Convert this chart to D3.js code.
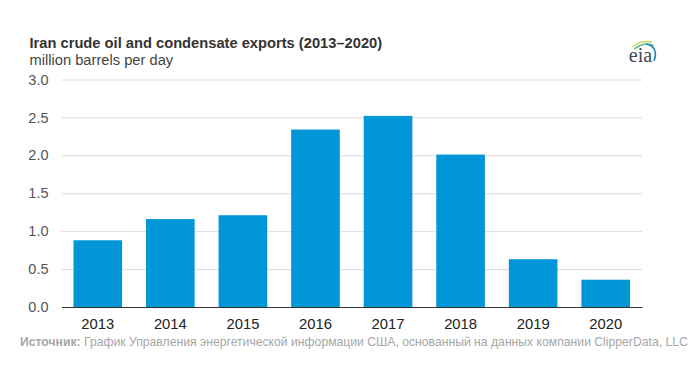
<!DOCTYPE html>
<html>
<head>
<meta charset="utf-8">
<script src="https://cdn.jsdelivr.net/npm/d3@7"></script>
<style>
  html,body{margin:0;padding:0;background:#fff;}
  text{font-family:"Liberation Sans",Arial,sans-serif;}
</style>
</head>
<body>
<div id="my_dataviz"></div>
<script>
var years = ["2013","2014","2015","2016","2017","2018","2019","2020"];
var exportsMbd = [0.88,1.16,1.21,2.34,2.52,2.01,0.63,0.36];
var yTicks = [0,0.5,1,1.5,2,2.5,3];

var width = 700, height = 379;
var svg = d3.select("#my_dataviz").append("svg")
    .attr("width", width).attr("height", height)
    .style("display","block");

var x = d3.scaleBand().domain(years).range([61.5,642]).paddingInner(0.33).paddingOuter(0.165);
var y = d3.scaleLinear().domain([0,3]).range([307,79.5]);

// gridlines + y labels
var yAxis = svg.append("g").attr("transform","translate(61.5,0)")
    .call(d3.axisLeft(y).tickValues(yTicks).tickFormat(d3.format(".1f")).tickSize(-580.5).tickPadding(13));
yAxis.select(".domain").remove();
yAxis.selectAll("line").attr("stroke","#dcdcdc").attr("stroke-width",1);
yAxis.selectAll("text").attr("fill","#555").style("font-size","14.5px");

// bars
svg.append("g").selectAll("rect")
    .data(years)
    .enter()
    .append("rect")
    .attr("x", function(d){ return x(d); })
    .attr("width", x.bandwidth())
    .attr("y", function(d,i){ return y(exportsMbd[i]); })
    .attr("height", function(d,i){ return y(0)-y(exportsMbd[i]); })
    .attr("fill","#0096d7");

// x axis
var xAxis = svg.append("g").attr("transform","translate(0,307)")
    .call(d3.axisBottom(x).tickSize(0).tickPadding(11));
xAxis.select(".domain").attr("stroke","#333").attr("stroke-width",1.2);
xAxis.selectAll("text").attr("fill","#222").style("font-size","14.8px");

// titles
svg.append("text").attr("x",29.5).attr("y",48).attr("fill","#333")
    .style("font-size","14.7px").style("font-weight","bold")
    .text("Iran crude oil and condensate exports (2013–2020)");
svg.append("text").attr("x",29.5).attr("y",65).attr("fill","#444")
    .style("font-size","14.7px")
    .text("million barrels per day");

// source
var src = svg.append("text").attr("x",20).attr("y",346).attr("fill","#a6a6a6").style("font-size","12.2px");
src.append("tspan").style("font-weight","bold").text("Источник:");
src.append("tspan").text(" График Управления энергетической информации США, основанный на данных компании ClipperData, LLC");

// logo
var logo = svg.append("g");
logo.append("text").attr("x",640.5).attr("y",61.5).attr("text-anchor","middle").attr("fill","#3f4a57")
    .style("font-family","'Liberation Serif',serif").style("font-size","20px").text("eia");
logo.append("path").attr("d","M632 47 Q641 40 652 42").attr("fill","none").attr("stroke","#c5d65a").attr("stroke-width",1.4);
logo.append("path").attr("d","M634 49 Q646 41 654 46").attr("fill","none").attr("stroke","#58b38f").attr("stroke-width",1.4);
logo.append("path").attr("d","M646 44 Q659 47 654 61").attr("fill","none").attr("stroke","#1e87b5").attr("stroke-width",1.6);
</script>
</body>
</html>
